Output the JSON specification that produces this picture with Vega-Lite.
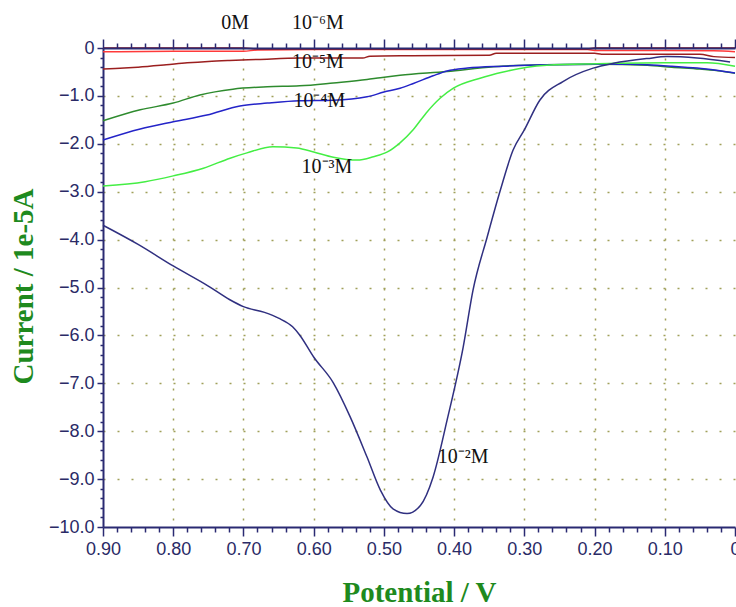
{
  "$schema": "https://vega.github.io/schema/vega-lite/v6.json",
  "width": 632,
  "height": 479,
  "autosize": {"type": "none"},
  "padding": {"left": 103, "top": 48, "right": 1, "bottom": 80},
  "background": "white",
  "config": {"view": {"stroke": null}},
  "datasets": {
    "curves": [
      {"s": "0M", "v": 0.9, "i": -0.08}, {"s": "0M", "v": 0.8, "i": -0.07}, {"s": "0M", "v": 0.7, "i": -0.07}, {"s": "0M", "v": 0.68, "i": -0.04}, {"s": "0M", "v": 0.6, "i": -0.03}, {"s": "0M", "v": 0.4, "i": -0.03}, {"s": "0M", "v": 0.21, "i": -0.03}, {"s": "0M", "v": 0.2, "i": -0.05}, {"s": "0M", "v": 0.1, "i": -0.05}, {"s": "0M", "v": 0.03, "i": -0.06}, {"s": "0M", "v": 0.0, "i": -0.08},
      {"s": "10⁻⁶M", "v": 0.9, "i": 0.0}, {"s": "10⁻⁶M", "v": 0.7, "i": 0.0}, {"s": "10⁻⁶M", "v": 0.68, "i": -0.02}, {"s": "10⁻⁶M", "v": 0.4, "i": -0.02}, {"s": "10⁻⁶M", "v": 0.21, "i": -0.02}, {"s": "10⁻⁶M", "v": 0.2, "i": 0.0}, {"s": "10⁻⁶M", "v": 0.0, "i": 0.0},
      {"s": "10⁻⁵M", "v": 0.9, "i": -0.44}, {"s": "10⁻⁵M", "v": 0.87, "i": -0.42}, {"s": "10⁻⁵M", "v": 0.85, "i": -0.4}, {"s": "10⁻⁵M", "v": 0.81, "i": -0.35}, {"s": "10⁻⁵M", "v": 0.78, "i": -0.31}, {"s": "10⁻⁵M", "v": 0.75, "i": -0.28}, {"s": "10⁻⁵M", "v": 0.72, "i": -0.26}, {"s": "10⁻⁵M", "v": 0.68, "i": -0.24}, {"s": "10⁻⁵M", "v": 0.62, "i": -0.21}, {"s": "10⁻⁵M", "v": 0.53, "i": -0.21}, {"s": "10⁻⁵M", "v": 0.52, "i": -0.17}, {"s": "10⁻⁵M", "v": 0.46, "i": -0.16}, {"s": "10⁻⁵M", "v": 0.35, "i": -0.15}, {"s": "10⁻⁵M", "v": 0.34, "i": -0.11}, {"s": "10⁻⁵M", "v": 0.2, "i": -0.11}, {"s": "10⁻⁵M", "v": 0.19, "i": -0.13}, {"s": "10⁻⁵M", "v": 0.05, "i": -0.13}, {"s": "10⁻⁵M", "v": 0.03, "i": -0.18}, {"s": "10⁻⁵M", "v": 0.0, "i": -0.2},
      {"s": "dark green trace", "v": 0.9, "i": -1.52}, {"s": "dark green trace", "v": 0.847, "i": -1.29}, {"s": "dark green trace", "v": 0.8, "i": -1.15}, {"s": "dark green trace", "v": 0.762, "i": -0.98}, {"s": "dark green trace", "v": 0.715, "i": -0.86}, {"s": "dark green trace", "v": 0.666, "i": -0.81}, {"s": "dark green trace", "v": 0.62, "i": -0.79}, {"s": "dark green trace", "v": 0.572, "i": -0.73}, {"s": "dark green trace", "v": 0.524, "i": -0.66}, {"s": "dark green trace", "v": 0.505, "i": -0.62}, {"s": "dark green trace", "v": 0.477, "i": -0.57}, {"s": "dark green trace", "v": 0.41, "i": -0.49}, {"s": "dark green trace", "v": 0.344, "i": -0.39}, {"s": "dark green trace", "v": 0.27, "i": -0.35}, {"s": "dark green trace", "v": 0.196, "i": -0.34}, {"s": "dark green trace", "v": 0.125, "i": -0.36}, {"s": "dark green trace", "v": 0.09, "i": -0.4}, {"s": "dark green trace", "v": 0.05, "i": -0.44}, {"s": "dark green trace", "v": 0.02, "i": -0.48}, {"s": "dark green trace", "v": 0.0, "i": -0.53},
      {"s": "10⁻⁴M", "v": 0.9, "i": -1.92}, {"s": "10⁻⁴M", "v": 0.847, "i": -1.69}, {"s": "10⁻⁴M", "v": 0.8, "i": -1.54}, {"s": "10⁻⁴M", "v": 0.752, "i": -1.4}, {"s": "10⁻⁴M", "v": 0.705, "i": -1.21}, {"s": "10⁻⁴M", "v": 0.666, "i": -1.15}, {"s": "10⁻⁴M", "v": 0.62, "i": -1.1}, {"s": "10⁻⁴M", "v": 0.572, "i": -1.09}, {"s": "10⁻⁴M", "v": 0.524, "i": -1.02}, {"s": "10⁻⁴M", "v": 0.5, "i": -0.92}, {"s": "10⁻⁴M", "v": 0.477, "i": -0.84}, {"s": "10⁻⁴M", "v": 0.458, "i": -0.74}, {"s": "10⁻⁴M", "v": 0.43, "i": -0.58}, {"s": "10⁻⁴M", "v": 0.41, "i": -0.48}, {"s": "10⁻⁴M", "v": 0.381, "i": -0.42}, {"s": "10⁻⁴M", "v": 0.33, "i": -0.38}, {"s": "10⁻⁴M", "v": 0.27, "i": -0.35}, {"s": "10⁻⁴M", "v": 0.2, "i": -0.34}, {"s": "10⁻⁴M", "v": 0.15, "i": -0.34}, {"s": "10⁻⁴M", "v": 0.125, "i": -0.35}, {"s": "10⁻⁴M", "v": 0.09, "i": -0.38}, {"s": "10⁻⁴M", "v": 0.054, "i": -0.42}, {"s": "10⁻⁴M", "v": 0.02, "i": -0.48}, {"s": "10⁻⁴M", "v": 0.0, "i": -0.52},
      {"s": "10⁻³M", "v": 0.9, "i": -2.88}, {"s": "10⁻³M", "v": 0.84, "i": -2.79}, {"s": "10⁻³M", "v": 0.8, "i": -2.67}, {"s": "10⁻³M", "v": 0.757, "i": -2.51}, {"s": "10⁻³M", "v": 0.719, "i": -2.3}, {"s": "10⁻³M", "v": 0.695, "i": -2.19}, {"s": "10⁻³M", "v": 0.658, "i": -2.06}, {"s": "10⁻³M", "v": 0.624, "i": -2.09}, {"s": "10⁻³M", "v": 0.6, "i": -2.17}, {"s": "10⁻³M", "v": 0.572, "i": -2.28}, {"s": "10⁻³M", "v": 0.538, "i": -2.34}, {"s": "10⁻³M", "v": 0.515, "i": -2.27}, {"s": "10⁻³M", "v": 0.495, "i": -2.17}, {"s": "10⁻³M", "v": 0.477, "i": -1.98}, {"s": "10⁻³M", "v": 0.458, "i": -1.7}, {"s": "10⁻³M", "v": 0.44, "i": -1.36}, {"s": "10⁻³M", "v": 0.42, "i": -1.05}, {"s": "10⁻³M", "v": 0.401, "i": -0.84}, {"s": "10⁻³M", "v": 0.363, "i": -0.63}, {"s": "10⁻³M", "v": 0.33, "i": -0.5}, {"s": "10⁻³M", "v": 0.296, "i": -0.4}, {"s": "10⁻³M", "v": 0.268, "i": -0.36}, {"s": "10⁻³M", "v": 0.196, "i": -0.33}, {"s": "10⁻³M", "v": 0.102, "i": -0.31}, {"s": "10⁻³M", "v": 0.04, "i": -0.31}, {"s": "10⁻³M", "v": 0.0, "i": -0.38},
      {"s": "10⁻²M", "v": 0.9, "i": -3.7}, {"s": "10⁻²M", "v": 0.85, "i": -4.1}, {"s": "10⁻²M", "v": 0.8, "i": -4.55}, {"s": "10⁻²M", "v": 0.75, "i": -4.97}, {"s": "10⁻²M", "v": 0.72, "i": -5.25}, {"s": "10⁻²M", "v": 0.7, "i": -5.4}, {"s": "10⁻²M", "v": 0.67, "i": -5.52}, {"s": "10⁻²M", "v": 0.65, "i": -5.64}, {"s": "10⁻²M", "v": 0.63, "i": -5.82}, {"s": "10⁻²M", "v": 0.62, "i": -5.99}, {"s": "10⁻²M", "v": 0.6, "i": -6.45}, {"s": "10⁻²M", "v": 0.572, "i": -6.99}, {"s": "10⁻²M", "v": 0.548, "i": -7.7}, {"s": "10⁻²M", "v": 0.524, "i": -8.54}, {"s": "10⁻²M", "v": 0.505, "i": -9.23}, {"s": "10⁻²M", "v": 0.487, "i": -9.62}, {"s": "10⁻²M", "v": 0.467, "i": -9.72}, {"s": "10⁻²M", "v": 0.448, "i": -9.55}, {"s": "10⁻²M", "v": 0.43, "i": -8.96}, {"s": "10⁻²M", "v": 0.41, "i": -7.77}, {"s": "10⁻²M", "v": 0.387, "i": -6.24}, {"s": "10⁻²M", "v": 0.373, "i": -5.05}, {"s": "10⁻²M", "v": 0.353, "i": -3.95}, {"s": "10⁻²M", "v": 0.334, "i": -2.96}, {"s": "10⁻²M", "v": 0.316, "i": -2.13}, {"s": "10⁻²M", "v": 0.3, "i": -1.71}, {"s": "10⁻²M", "v": 0.278, "i": -1.09}, {"s": "10⁻²M", "v": 0.245, "i": -0.7}, {"s": "10⁻²M", "v": 0.202, "i": -0.42}, {"s": "10⁻²M", "v": 0.173, "i": -0.32}, {"s": "10⁻²M", "v": 0.125, "i": -0.22}, {"s": "10⁻²M", "v": 0.097, "i": -0.18}, {"s": "10⁻²M", "v": 0.054, "i": -0.21}, {"s": "10⁻²M", "v": 0.007, "i": -0.29}
    ],
    "labels": [
      {"t": "0M", "v": 0.712, "i": 0.4},
      {"t": "10⁻⁶M", "v": 0.594, "i": 0.4},
      {"t": "10⁻⁵M", "v": 0.594, "i": -0.42},
      {"t": "10⁻⁴M", "v": 0.592, "i": -1.23},
      {"t": "10⁻³M", "v": 0.581, "i": -2.61},
      {"t": "10⁻²M", "v": 0.387, "i": -8.66}
    ]
  },
  "layer": [
    {
      "data": {"name": "curves"},
      "mark": {"type": "line", "strokeWidth": 1.5, "interpolate": "monotone"},
      "encoding": {
        "x": {
          "field": "v", "type": "quantitative",
          "scale": {"domain": [0, 0.9], "reverse": true, "nice": false, "zero": false},
          "axis": {
            "orient": "bottom",
            "values": [0, 0.02, 0.04, 0.06, 0.08, 0.1, 0.12, 0.14, 0.16, 0.18, 0.2, 0.22, 0.24, 0.26, 0.28, 0.3, 0.32, 0.34, 0.36, 0.38, 0.4, 0.42, 0.44, 0.46, 0.48, 0.5, 0.52, 0.54, 0.56, 0.58, 0.6, 0.62, 0.64, 0.66, 0.68, 0.7, 0.72, 0.74, 0.76, 0.78, 0.8, 0.82, 0.84, 0.86, 0.88, 0.9],
            "labelExpr": "abs(datum.value*10 - round(datum.value*10)) > 0.001 ? '' : (datum.value < 0.001 ? '0' : format(datum.value, '.2f'))",
            "labelOverlap": false, "labelFlush": false, "labelBound": false,
            "labelFont": "Liberation Sans", "labelFontSize": 18, "labelColor": "#2a2a66", "labelPadding": 4,
            "tickSize": {"condition": {"test": "abs(datum.value*10 - round(datum.value*10)) < 0.001", "value": 9}, "value": 5},
            "tickColor": "#2a2a72", "tickWidth": 1.5,
            "domainColor": "#2a2a72", "domainWidth": 2,
            "grid": true, "gridColor": "#a0a05a", "gridWidth": 1.5, "gridDash": [2, 8],
            "gridOpacity": {"condition": {"test": "abs(datum.value*10 - round(datum.value*10)) < 0.001 && datum.value > 0.001 && datum.value < 0.899", "value": 1}, "value": 0},
            "title": "Potential / V",
            "titleFont": "Liberation Serif", "titleFontWeight": "bold", "titleFontSize": 29, "titleColor": "#1e8a1e",
            "titleX": 316, "titleY": 65, "titleBaseline": "middle", "titleAlign": "center"
          }
        },
        "y": {
          "field": "i", "type": "quantitative",
          "scale": {"domain": [-10, 0], "nice": false, "zero": false},
          "axis": {
            "orient": "left",
            "values": [-10, -9.8, -9.6, -9.4, -9.2, -9, -8.8, -8.6, -8.4, -8.2, -8, -7.8, -7.6, -7.4, -7.2, -7, -6.8, -6.6, -6.4, -6.2, -6, -5.8, -5.6, -5.4, -5.2, -5, -4.8, -4.6, -4.4, -4.2, -4, -3.8, -3.6, -3.4, -3.2, -3, -2.8, -2.6, -2.4, -2.2, -2, -1.8, -1.6, -1.4, -1.2, -1, -0.8, -0.6, -0.4, -0.2, 0],
            "labelExpr": "abs(datum.value - round(datum.value)) > 0.001 ? '' : (abs(datum.value) < 0.001 ? '0' : format(datum.value, '.1f'))",
            "labelOverlap": false, "labelFlush": false, "labelBound": false,
            "labelFont": "Liberation Sans", "labelFontSize": 18, "labelColor": "#2a2a66", "labelPadding": 3,
            "tickSize": {"condition": {"test": "abs(datum.value - round(datum.value)) < 0.001", "value": 6}, "value": 3},
            "tickColor": "#2a2a72", "tickWidth": 1.5,
            "domainColor": "#2a2a72", "domainWidth": 2,
            "grid": true, "gridColor": "#a0a05a", "gridWidth": 1.5, "gridDash": [2, 12],
            "gridOpacity": {"condition": {"test": "abs(datum.value - round(datum.value)) < 0.001 && datum.value < -0.5 && datum.value > -9.5", "value": 1}, "value": 0},
            "title": "Current / 1e-5A",
            "titleFont": "Liberation Serif", "titleFontWeight": "bold", "titleFontSize": 29, "titleColor": "#1e8a1e",
            "titleAngle": -90, "titleX": -80, "titleY": 238, "titleBaseline": "middle", "titleAlign": "center"
          }
        },
        "color": {
          "field": "s", "type": "nominal",
          "scale": {
            "domain": ["0M", "10⁻⁶M", "10⁻⁵M", "dark green trace", "10⁻⁴M", "10⁻³M", "10⁻²M"],
            "range": ["#ff3a3a", "#a01010", "#9b1f1f", "#2e8b2e", "#2424c8", "#44ee44", "#303080"]
          },
          "legend": null
        }
      }
    },
    {
      "data": {"name": "labels"},
      "mark": {"type": "text", "font": "Liberation Serif", "fontSize": 20, "baseline": "alphabetic", "align": "center", "color": "#111111"},
      "encoding": {
        "x": {
          "field": "v", "type": "quantitative",
          "axis": {
            "orient": "top",
            "values": [0, 0.02, 0.04, 0.06, 0.08, 0.1, 0.12, 0.14, 0.16, 0.18, 0.2, 0.22, 0.24, 0.26, 0.28, 0.3, 0.32, 0.34, 0.36, 0.38, 0.4, 0.42, 0.44, 0.46, 0.48, 0.5, 0.52, 0.54, 0.56, 0.58, 0.6, 0.62, 0.64, 0.66, 0.68, 0.7, 0.72, 0.74, 0.76, 0.78, 0.8, 0.82, 0.84, 0.86, 0.88, 0.9],
            "labels": false, "title": null, "grid": false,
            "tickSize": {"condition": {"test": "abs(datum.value*10 - round(datum.value*10)) < 0.001", "value": 9}, "value": 5},
            "tickColor": "#2a2a72", "tickWidth": 1.5,
            "domainColor": "#2a2a72", "domainWidth": 2,
            "zindex": 1
          }
        },
        "y": {"field": "i", "type": "quantitative", "axis": null},
        "text": {"field": "t"}
      }
    }
  ],
  "resolve": {"axis": {"x": "independent", "y": "independent"}}
}
